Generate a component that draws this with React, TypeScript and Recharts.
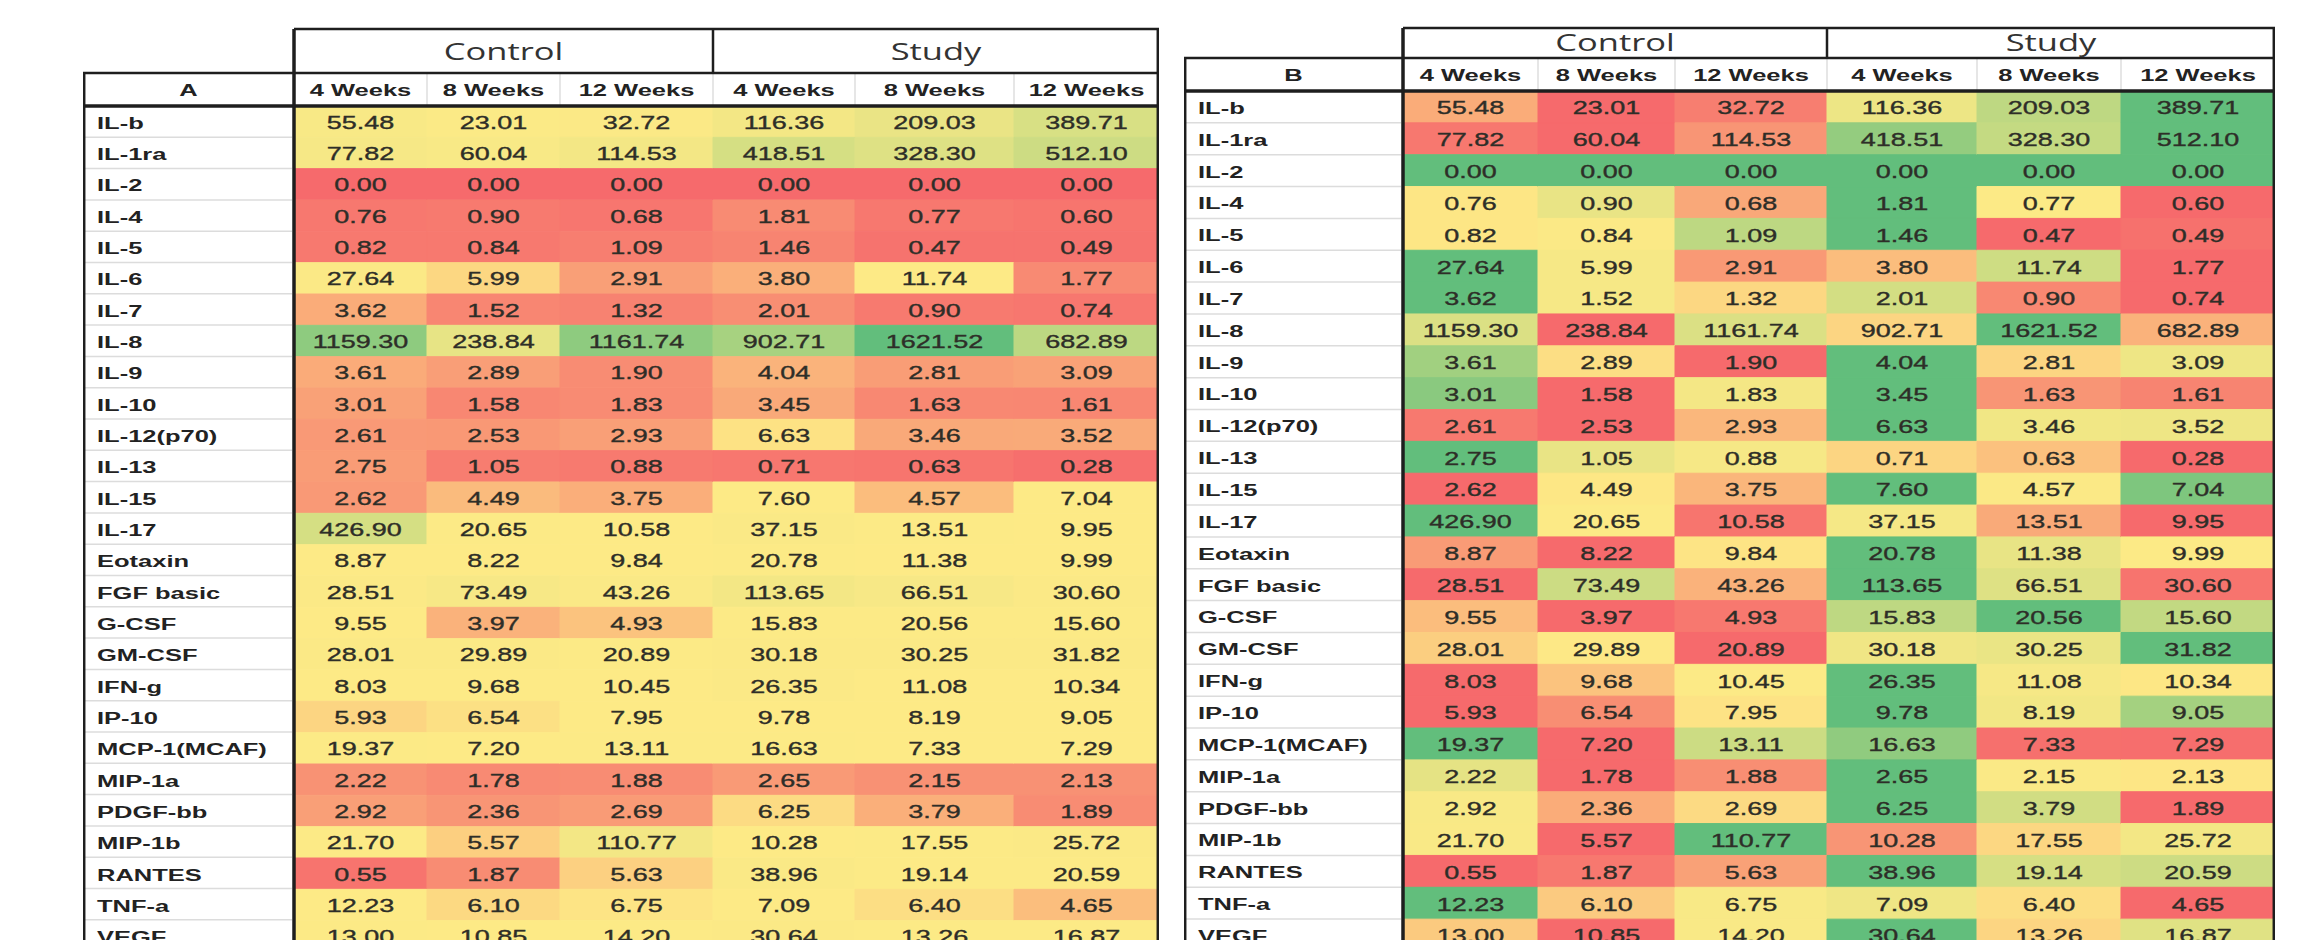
import React from 'react';
import { BarChart, Bar, XAxis, YAxis, Cell, LabelList } from 'recharts';

const cytokines = [
  'IL-b', 'IL-1ra', 'IL-2', 'IL-4', 'IL-5', 'IL-6', 'IL-7', 'IL-8', 'IL-9', 'IL-10',
  'IL-12(p70)', 'IL-13', 'IL-15', 'IL-17', 'Eotaxin', 'FGF basic', 'G-CSF', 'GM-CSF',
  'IFN-g', 'IP-10', 'MCP-1(MCAF)', 'MIP-1a', 'PDGF-bb', 'MIP-1b', 'RANTES', 'TNF-a', 'VEGF',
];

const control4 = [55.48, 77.82, 0.0, 0.76, 0.82, 27.64, 3.62, 1159.3, 3.61, 3.01, 2.61, 2.75, 2.62, 426.9, 8.87, 28.51, 9.55, 28.01, 8.03, 5.93, 19.37, 2.22, 2.92, 21.7, 0.55, 12.23, 13.0];
const control8 = [23.01, 60.04, 0.0, 0.9, 0.84, 5.99, 1.52, 238.84, 2.89, 1.58, 2.53, 1.05, 4.49, 20.65, 8.22, 73.49, 3.97, 29.89, 9.68, 6.54, 7.2, 1.78, 2.36, 5.57, 1.87, 6.1, 10.85];
const control12 = [32.72, 114.53, 0.0, 0.68, 1.09, 2.91, 1.32, 1161.74, 1.9, 1.83, 2.93, 0.88, 3.75, 10.58, 9.84, 43.26, 4.93, 20.89, 10.45, 7.95, 13.11, 1.88, 2.69, 110.77, 5.63, 6.75, 14.2];
const study4 = [116.36, 418.51, 0.0, 1.81, 1.46, 3.8, 2.01, 902.71, 4.04, 3.45, 6.63, 0.71, 7.6, 37.15, 20.78, 113.65, 15.83, 30.18, 26.35, 9.78, 16.63, 2.65, 6.25, 10.28, 38.96, 7.09, 30.64];
const study8 = [209.03, 328.3, 0.0, 0.77, 0.47, 11.74, 0.9, 1621.52, 2.81, 1.63, 3.46, 0.63, 4.57, 13.51, 11.38, 66.51, 20.56, 30.25, 11.08, 8.19, 7.33, 2.15, 3.79, 17.55, 19.14, 6.4, 13.26];
const study12 = [389.71, 512.1, 0.0, 0.6, 0.49, 1.77, 0.74, 682.89, 3.09, 1.61, 3.52, 0.28, 7.04, 9.95, 9.99, 30.6, 15.6, 31.82, 10.34, 9.05, 7.29, 2.13, 1.89, 25.72, 20.59, 4.65, 16.87];

const weekLabels = ['4 Weeks', '8 Weeks', '12 Weeks'];
const groupLabels = ['Control', 'Study'];

const columns = [control4, control8, control12, study4, study8, study12];

// excel style red / yellow / green scale, midpoint at the 50th percentile
const RED = [246, 106, 108];
const YEL = [253, 234, 134];
const GRN = [98, 190, 124];

const median = (arr: number[]) => {
  const s = [...arr].sort((a, b) => a - b);
  const n = s.length;
  return n % 2 ? s[(n - 1) / 2] : (s[n / 2 - 1] + s[n / 2]) / 2;
};

const mix = (a: number[], b: number[], t: number) =>
  `rgb(${a.map((c, i) => Math.round(c + (b[i] - c) * t)).join(',')})`;

const heat = (v: number, lo: number, mid: number, hi: number) => {
  if (hi === lo) return mix(GRN, GRN, 0);
  if (v <= mid) return mix(RED, YEL, mid === lo ? 1 : (v - lo) / (mid - lo));
  return mix(YEL, GRN, (v - mid) / (hi - mid));
};

const SX = 1.5;
const FONT = '"Liberation Sans", Arial, sans-serif';
const DARK = '#1e1e1e';

type Panel = {
  id: string;
  left: number;
  width: number;
  labelW: number;
  cols: number[];
  groupTop: number;
  headTop: number;
  headH: number;
  rowH: number;
  groupTextY: number;
  scope: 'table' | 'row';
};

const panels: Panel[] = [
  { id: 'A', left: 83, width: 1076, labelW: 211, cols: [133, 133, 153, 142, 159, 145], groupTop: 29, headTop: 73, headH: 33, rowH: 31.3, groupTextY: 51, scope: 'table' },
  { id: 'B', left: 1184, width: 1091, labelW: 219, cols: [135, 137, 152, 150, 144, 154], groupTop: 28, headTop: 58, headH: 33, rowH: 31.85, groupTextY: 42, scope: 'row' },
];

const renderValue = (props: any) => {
  const vb = props.viewBox || props;
  const x = (vb.x ?? props.x) + (vb.width ?? props.width) / 2;
  const y = (vb.y ?? props.y) + (vb.height ?? props.height) / 2;
  return (
    <text
      transform={`translate(${x},${y + 1}) scale(${SX},1)`}
      textAnchor="middle"
      dominantBaseline="central"
      fontFamily={FONT}
      fontSize={18}
      fill="#2e2e28"
      stroke="#2e2e28"
      strokeWidth={0.35}
    >
      {Number(props.value).toFixed(2)}
    </text>
  );
};

const HeatTable = ({ p }: { p: Panel }) => {
  const plotTop = p.headTop + p.headH;
  const height = Math.ceil(plotTop + cytokines.length * p.rowH);
  const edges = p.cols.reduce((acc, w) => [...acc, acc[acc.length - 1] + w], [0]);
  const total = edges[edges.length - 1];
  const centers = p.cols.map((w, i) => edges[i] + w / 2);

  const all = columns.flat();
  const gLo = Math.min(...all);
  const gMid = median(all);
  const gHi = Math.max(...all);

  const data = cytokines.map((name, r) => {
    const vals = columns.map((c) => c[r]);
    const [lo, mid, hi] =
      p.scope === 'table' ? [gLo, gMid, gHi] : [Math.min(...vals), median(vals), Math.max(...vals)];
    const row: any = { name };
    vals.forEach((v, j) => {
      row['w' + j] = p.cols[j];
      row['v' + j] = v;
      row['c' + j] = heat(v, lo, mid, hi);
    });
    return row;
  });

  const splitX = p.labelW + edges[3];

  return (
    <div style={{ position: 'absolute', left: p.left, top: 0, width: p.width, height: 940 }}>
      <BarChart
        width={p.width}
        height={height}
        data={data}
        layout="vertical"
        margin={{ top: p.headTop, right: 0, bottom: 0, left: 0 }}
        barCategoryGap={0}
      >
        <XAxis
          type="number"
          orientation="top"
          domain={[0, total]}
          ticks={centers}
          interval={0}
          height={p.headH}
          axisLine={false}
          tickLine={false}
          allowDataOverflow
          tick={(t: any) => {
            const i = centers.indexOf(t.payload.value);
            return (
              <text
                transform={`translate(${t.x},${p.headTop + p.headH / 2 + 1}) scale(${SX},1)`}
                textAnchor="middle"
                dominantBaseline="central"
                fontFamily={FONT}
                fontWeight="bold"
                fontSize={17}
                fill="#222"
              >
                {weekLabels[(i < 0 ? 0 : i) % 3]}
              </text>
            );
          }}
        />
        <YAxis
          type="category"
          dataKey="name"
          width={p.labelW}
          axisLine={false}
          tickLine={false}
          interval={0}
          tick={(t: any) => (
            <text
              transform={`translate(14,${t.y + 1}) scale(${SX},1)`}
              textAnchor="start"
              dominantBaseline="central"
              fontFamily={FONT}
              fontWeight="bold"
              fontSize={17}
              fill="#222"
            >
              {t.payload.value}
            </text>
          )}
        />
        {columns.map((_, j) => (
          <Bar key={j} dataKey={'w' + j} stackId="cells" isAnimationActive={false}>
            {data.map((row, r) => (
              <Cell key={r} fill={row['c' + j]} stroke={row['c' + j]} strokeWidth={1} />
            ))}
            <LabelList dataKey={'v' + j} content={renderValue} />
          </Bar>
        ))}
      </BarChart>

      <svg
        width={p.width}
        height={940}
        style={{ position: 'absolute', left: 0, top: 0, pointerEvents: 'none' }}
      >
        {cytokines.slice(1).map((_, k) => (
          <line
            key={k}
            x1={2}
            x2={p.labelW - 2}
            y1={plotTop + (k + 1) * p.rowH}
            y2={plotTop + (k + 1) * p.rowH}
            stroke="#dcdcdc"
            strokeWidth={1.5}
          />
        ))}
        {edges.slice(1, -1).map((e, k) => (
          <line
            key={k}
            x1={p.labelW + e}
            x2={p.labelW + e}
            y1={p.headTop}
            y2={plotTop}
            stroke="#dedede"
            strokeWidth={1.5}
          />
        ))}
        <line x1={p.labelW} x2={p.width} y1={p.groupTop} y2={p.groupTop} stroke={DARK} strokeWidth={2.5} />
        <line x1={0} x2={p.width} y1={p.headTop} y2={p.headTop} stroke={DARK} strokeWidth={2.5} />
        <line x1={0} x2={p.width} y1={plotTop} y2={plotTop} stroke={DARK} strokeWidth={3.5} />
        <line x1={1.2} x2={1.2} y1={p.headTop} y2={940} stroke={DARK} strokeWidth={2.5} />
        <line x1={p.labelW} x2={p.labelW} y1={p.groupTop} y2={940} stroke={DARK} strokeWidth={3.5} />
        <line x1={splitX} x2={splitX} y1={p.groupTop} y2={p.headTop} stroke={DARK} strokeWidth={2.5} />
        <line x1={p.width - 1.2} x2={p.width - 1.2} y1={p.groupTop} y2={940} stroke={DARK} strokeWidth={2.5} />

        <text
          transform={`translate(${p.labelW / 2},${p.headTop + p.headH / 2 + 1}) scale(${SX},1)`}
          textAnchor="middle"
          dominantBaseline="central"
          fontFamily={FONT}
          fontWeight="bold"
          fontSize={17}
          fill="#222"
        >
          {p.id}
        </text>
        {groupLabels.map((g, k) => {
          const x0 = k === 0 ? p.labelW : splitX;
          const x1 = k === 0 ? splitX : p.width;
          return (
            <text
              key={g}
              transform={`translate(${(x0 + x1) / 2},${p.groupTextY}) scale(${SX},1)`}
              textAnchor="middle"
              dominantBaseline="central"
              fontFamily='"Open Sans", "Noto Sans", sans-serif'
              fontSize={23}
              fill="#333"
            >
              {g}
            </text>
          );
        })}
      </svg>
    </div>
  );
}

export default function App() {
  return (
    <div
      style={{
        position: 'absolute',
        left: 0,
        top: 0,
        width: 2314,
        height: 940,
        overflow: 'hidden',
        background: '#fff',
      }}
    >
      {panels.map((p) => (
        <HeatTable key={p.id} p={p} />
      ))}
    </div>
  );
}
